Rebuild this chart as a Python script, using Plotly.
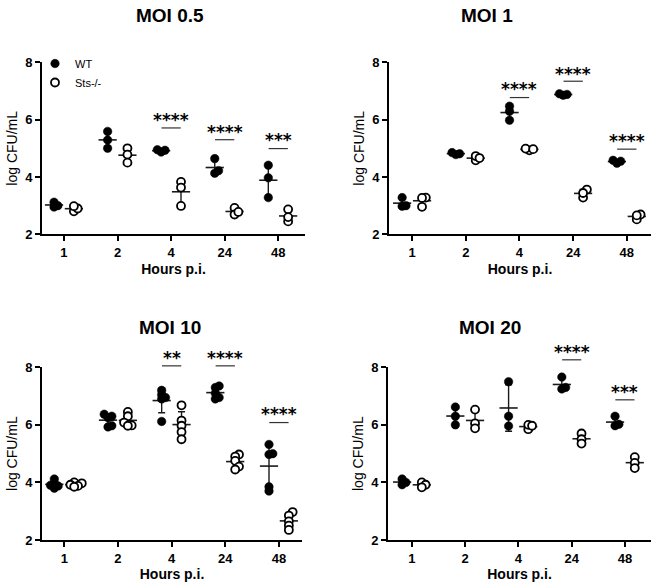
import numpy as np
import plotly.graph_objects as go

# ---------------- data ----------------
times = ["1", "2", "4", "24", "48"]
panel_titles = ["MOI 0.5", "MOI 1", "MOI 10", "MOI 20"]
group_names = ["WT", "Sts-/-"]

moi05_wt = [[2.95, 3.00, 3.12], [5.59, 5.29, 5.00], [4.87, 4.93, 4.95], [4.64, 4.13, 4.22], [4.41, 3.97, 3.28]]
moi05_ko = [[2.80, 2.90, 2.98], [5.00, 4.78, 4.50], [3.83, 3.63, 2.99], [2.92, 2.69, 2.78], [2.87, 2.45, 2.60]]

moi1_wt = [[3.28, 2.98, 3.00], [4.78, 4.85, 4.81], [6.47, 6.29, 5.98], [6.85, 6.90, 6.88], [4.48, 4.58, 4.55]]
moi1_ko = [[3.28, 3.27, 2.96], [4.58, 4.73, 4.66], [4.93, 4.99, 4.97], [3.56, 3.28, 3.44], [2.52, 2.69, 2.66]]

moi10_wt = [[4.12, 3.97, 3.90, 3.80, 3.88], [6.37, 6.30, 6.25, 5.97, 5.93], [7.20, 7.05, 6.95, 6.90, 6.12],
            [7.35, 7.30, 7.10, 6.95, 6.90], [5.32, 5.00, 4.97, 3.85, 3.70]]
moi10_ko = [[4.00, 3.97, 3.92, 3.88, 3.85], [6.45, 6.30, 6.08, 5.98, 5.97], [6.68, 6.15, 5.97, 5.75, 5.50],
            [4.97, 4.90, 4.75, 4.55, 4.45], [2.97, 2.85, 2.65, 2.50, 2.35]]

moi20_wt = [[4.12, 4.00, 3.92], [6.62, 6.30, 6.00], [7.50, 6.30, 5.96], [7.66, 7.30, 7.25], [6.30, 6.02, 5.97]]
moi20_ko = [[4.00, 3.92, 3.83], [6.53, 6.05, 5.88], [5.85, 6.00, 5.97], [5.70, 5.50, 5.35], [4.88, 4.68, 4.50]]

# significance brackets: time index, label, bracket level, label level
sig05_idx = [2, 3, 4]
sig05_lab = ["****", "****", "***"]
sig05_line = [5.71, 5.30, 4.99]
sig05_text = [6.12, 5.72, 5.42]

sig1_idx = [2, 3, 4]
sig1_lab = ["****", "****", "****"]
sig1_line = [6.77, 7.34, 4.97]
sig1_text = [7.20, 7.74, 5.40]

sig10_idx = [2, 3, 4]
sig10_lab = ["**", "****", "****"]
sig10_line = [8.05, 8.05, 6.08]
sig10_text = [8.45, 8.45, 6.52]

sig20_idx = [3, 4]
sig20_lab = ["****", "***"]
sig20_line = [8.26, 6.87]
sig20_text = [8.66, 7.27]

y_ticks = [2, 4, 6, 8]

# ---------------- layout geometry (pixels) ----------------
W, H = 651, 586
FONT = "Liberation Sans, Arial, sans-serif"
panels = [
    dict(wt=moi05_wt, ko=moi05_ko, si=sig05_idx, sl=sig05_lab, sy=sig05_line, st=sig05_text,
         px=(42, 305), py=(62.3, 234.3), xr=(-0.41, 4.5), title=(170, 15), legend=True),
    dict(wt=moi1_wt, ko=moi1_ko, si=sig1_idx, sl=sig1_lab, sy=sig1_line, st=sig1_text,
         px=(389, 651), py=(62.3, 234.3), xr=(-0.43, 4.45), title=(487, 15), legend=False),
    dict(wt=moi10_wt, ko=moi10_ko, si=sig10_idx, sl=sig10_lab, sy=sig10_line, st=sig10_text,
         px=(42, 302), py=(367.3, 540), xr=(-0.415, 4.43), title=(170, 327), legend=False),
    dict(wt=moi20_wt, ko=moi20_ko, si=sig20_idx, sl=sig20_lab, sy=sig20_line, st=sig20_text,
         px=(388, 651), py=(367.3, 540), xr=(-0.45, 4.49), title=(490, 327), legend=False),
]
YR = (2, 8)
GROUP_OFF = 0.185
MS = 9


def swarm(vals, center, px_per_cat, px_per_unit, step=3.8, mind=3.5):
    """Simple beeswarm: spread overlapping points sideways (pixel units)."""
    order = sorted(range(len(vals)), key=lambda i: vals[i])
    placed, xs = [], [0.0] * len(vals)
    for i in order:
        y = vals[i] * px_per_unit
        for k in [0, 1, -1, 2, -2, 3, -3, 4, -4]:
            x = k * step
            if all((x - a) ** 2 + (y - b) ** 2 >= mind ** 2 for a, b in placed):
                break
        placed.append((x, y))
        xs[i] = center + x / px_per_cat
    return xs


fig = go.Figure()
layout = dict(
    template="none",
    width=W, height=H, margin=dict(l=0, r=0, t=0, b=0, pad=0), autosize=False,
    paper_bgcolor="white", plot_bgcolor="white",
    font=dict(family=FONT, color="black"),
    showlegend=True,
    legend=dict(x=35 / W, y=1 - 49 / H, xanchor="left", yanchor="top",
                font=dict(family=FONT, size=11), bgcolor="rgba(0,0,0,0)",
                borderwidth=0, tracegroupgap=0),
)
annotations, shapes = [], []

for p_i, p in enumerate(panels):
    n = "" if p_i == 0 else str(p_i + 1)
    xa, ya = "x" + n, "y" + n
    x0, x1 = p["px"]
    ytop, ybot = p["py"]
    px_per_cat = (x1 - x0) / (p["xr"][1] - p["xr"][0])
    px_per_unit = (ybot - ytop) / (YR[1] - YR[0])

    layout["xaxis" + n] = dict(
        domain=[x0 / W, x1 / W], range=list(p["xr"]), anchor=ya, automargin=False,
        tickmode="array", tickvals=list(range(len(times))), ticktext=times,
        showline=True, linecolor="black", linewidth=2, ticks="outside", ticklen=5, tickwidth=2,
        tickcolor="black", showgrid=False, zeroline=False,
        tickfont=dict(family=FONT, size=13, weight="bold"),
        title=dict(text="Hours p.i.", font=dict(family=FONT, size=14, weight="bold"), standoff=5),
    )
    layout["yaxis" + n] = dict(
        domain=[1 - ybot / H, 1 - ytop / H], range=list(YR), anchor=xa, automargin=False,
        tickmode="array", tickvals=y_ticks,
        showline=True, linecolor="black", linewidth=2, ticks="outside", ticklen=5, tickwidth=2,
        tickcolor="black", showgrid=False, zeroline=False,
        tickfont=dict(family=FONT, size=13, weight="bold"),
        title=dict(text="log CFU/mL", font=dict(family=FONT, size=14), standoff=4),
    )

    # title
    annotations.append(dict(text="<b>%s</b>" % panel_titles[p_i], xref="paper", yref="paper",
                            x=p["title"][0] / W, y=1 - p["title"][1] / H, xanchor="center",
                            yanchor="middle", showarrow=False,
                            font=dict(family=FONT, size=19, color="black")))

    for g_i, (gname, data) in enumerate(zip(group_names, [p["wt"], p["ko"]])):
        off = -GROUP_OFF if g_i == 0 else GROUP_OFF
        # mean + SD
        means = [float(np.mean(v)) for v in data]
        sds = [float(np.std(v, ddof=1)) for v in data]
        centers = [t + off for t in range(len(times))]
        fig.add_trace(go.Scatter(
            x=centers, y=means, mode="markers", xaxis=xa, yaxis=ya, showlegend=False,
            hoverinfo="skip",
            marker=dict(symbol="line-ew", size=13, line=dict(color="#1a1a1a", width=1.6)),
            error_y=dict(type="data", array=sds, visible=True, color="#1a1a1a",
                         thickness=1.4, width=3.5),
            cliponaxis=False,
        ))
        # individual points
        xs, ys = [], []
        for t, vals in enumerate(data):
            xs += swarm(vals, t + off, px_per_cat, px_per_unit)
            ys += list(vals)
        if g_i == 0:
            mk = dict(symbol="circle", size=MS - 0.5, color="black", line=dict(color="black", width=0.5))
        else:
            mk = dict(symbol="circle", size=MS - 1, color="white", line=dict(color="black", width=1.8))
        fig.add_trace(go.Scatter(
            x=xs, y=ys, mode="markers", name=gname, xaxis=xa, yaxis=ya,
            showlegend=p["legend"], marker=mk, cliponaxis=False,
        ))

    # significance bars
    for idx, lab, ly, ty in zip(p["si"], p["sl"], p["sy"], p["st"]):
        fy = (ly - YR[0]) / (YR[1] - YR[0])
        ft = (ty - YR[0]) / (YR[1] - YR[0])
        shapes.append(dict(type="line", xref=xa, yref=ya + " domain",
                           x0=idx - 0.18, x1=idx + 0.18, y0=fy, y1=fy,
                           line=dict(color="#333333", width=1.2)))
        annotations.append(dict(text="<b>%s</b>" % lab, xref=xa, yref=ya + " domain",
                                x=idx, y=ft, xanchor="center", yanchor="middle", yshift=-4,
                                showarrow=False,
                                font=dict(family="DejaVu Sans", size=17, color="black")))

layout["annotations"] = annotations
layout["shapes"] = shapes
fig.update_layout(**layout)
fig.write_html("out.html",
               config={"displayModeBar": False},
               post_script="document.body.style.margin='0';document.body.style.padding='0';"
                           "document.documentElement.style.overflow='hidden';")
